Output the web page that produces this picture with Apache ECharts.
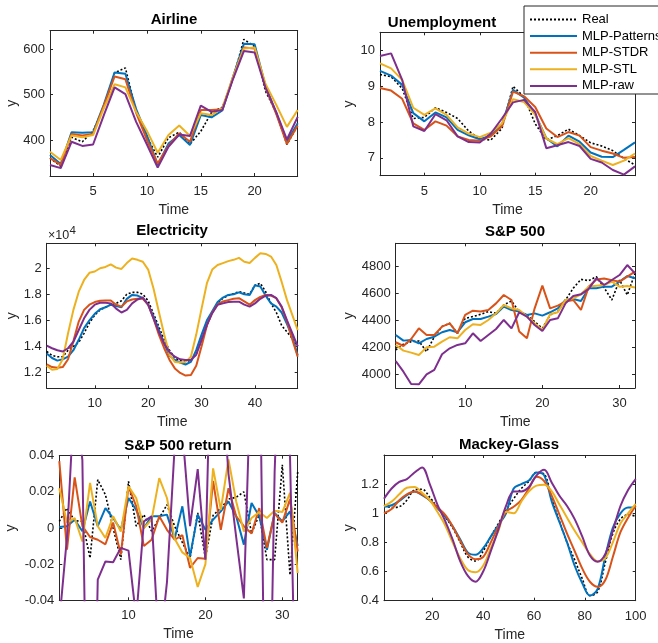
<!DOCTYPE html>
<html>
<head>
<meta charset="utf-8">
<script src="https://cdn.jsdelivr.net/npm/echarts@6/dist/echarts.min.js"></script>
<style>
  html, body { margin: 0; padding: 0; background: #fff; }
  #chart { width: 658px; height: 643px; }
</style>
</head>
<body>
<div id="chart"></div>
<script>
// ---- series names -------------------------------------------------------
const seriesNames = ['Real', 'MLP-Patterns', 'MLP-STDR', 'MLP-STL', 'MLP-raw'];

// ---- Airline (24 steps) -------------------------------------------------
const airReal     = [360, 342, 406, 396, 420, 472, 548, 559, 463, 407, 362, 405, 417, 391, 419, 461, 472, 535, 622, 606, 508, 461, 390, 432];
const airPatterns = [367, 347, 417, 416, 417, 478, 549, 546, 468, 410, 345, 392, 411, 389, 455, 450, 465, 540, 612, 611, 520, 460, 396, 437];
const airSTDR     = [360, 345, 413, 410, 413, 476, 540, 534, 460, 400, 348, 387, 415, 396, 466, 466, 468, 537, 604, 602, 516, 458, 391, 432];
const airSTL      = [374, 356, 410, 406, 411, 470, 523, 516, 462, 420, 372, 411, 432, 409, 459, 455, 470, 540, 602, 604, 524, 478, 429, 466];
const airRaw      = [345, 338, 396, 387, 390, 455, 516, 501, 440, 390, 339, 385, 412, 409, 476, 462, 466, 535, 596, 593, 516, 462, 401, 451];
const airTicksX = [5, 10, 15, 20];
const airTicksY = [400, 500, 600];

// ---- Unemployment (24 steps) --------------------------------------------
const unReal     = [9.33, 9.27, 8.94, 8.10, 8.13, 8.40, 8.27, 8.10, 7.75, 7.52, 7.50, 7.82, 9.00, 8.70, 7.95, 7.50, 7.62, 7.80, 7.62, 7.42, 7.33, 7.20, 6.98, 6.80];
const unPatterns = [9.43, 9.30, 9.04, 8.25, 8.02, 8.27, 8.13, 7.78, 7.63, 7.52, 7.62, 7.92, 8.90, 8.68, 8.22, 7.55, 7.32, 7.62, 7.45, 7.15, 7.03, 7.02, 7.22, 7.43];
const unSTDR     = [8.95, 8.88, 8.65, 7.96, 7.78, 8.02, 7.90, 7.60, 7.50, 7.48, 7.60, 7.88, 8.85, 8.72, 8.42, 7.82, 7.58, 7.72, 7.62, 7.30, 7.20, 7.12, 7.00, 7.02];
const unSTL      = [9.64, 9.50, 9.18, 8.40, 8.20, 8.38, 8.20, 7.85, 7.68, 7.58, 7.70, 7.96, 8.64, 8.56, 8.20, 7.54, 7.38, 7.55, 7.38, 7.05, 6.92, 6.80, 6.92, 7.12];
const unRaw      = [9.85, 9.92, 9.18, 7.88, 7.75, 8.22, 8.05, 7.60, 7.44, 7.43, 7.68, 8.10, 8.55, 8.62, 8.28, 7.27, 7.35, 7.44, 7.33, 6.97, 6.87, 6.66, 6.53, 6.76];
const unTicksX = [5, 10, 15, 20];
const unTicksY = [7, 8, 9, 10];

// ---- Electricity (48 steps) ---------------------------------------------
const elReal     = [13600, 13300, 13200, 13200, 13700, 14000, 14300, 15000, 15800, 16400, 16800, 17000, 17200, 17300, 17500, 18000, 18150, 18150, 18000, 17500, 16500, 15500, 14500, 13700,
                    13100, 12900, 12850, 12900, 13400, 14500, 15600, 16600, 17300, 17700, 17900, 18050, 18200, 18100, 18000, 18700, 18850, 18200, 17300, 16600, 15600, 15100, 14600, 14000];
const elPatterns = [13450, 13100, 12900, 13000, 13200, 13700, 14500, 15400, 16000, 16500, 16850, 17000, 17200, 17100, 17000, 17650, 17950, 17900, 17700, 17200, 16300, 15250, 14200, 13300,
                    12950, 12750, 12600, 12800, 13700, 14900, 16000, 16700, 17400, 17750, 17950, 18000, 18150, 18000, 17950, 18700, 18600, 17900, 17300, 17050, 16600, 15700, 14700, 13300];
const elSTDR     = [12600, 12400, 12350, 12400, 13000, 14400, 15900, 16800, 17200, 17400, 17500, 17520, 17520, 17200, 17050, 17450, 17600, 17650, 17650, 17200, 16150, 14900, 13850, 12950,
                    12300, 11950, 11750, 11800, 12500, 14000, 15600, 16600, 17200, 17450, 17550, 17650, 17700, 17450, 17200, 17550, 17800, 17950, 17900, 17700, 17000, 15900, 14500, 13200];
const elSTL      = [12500, 12200, 12250, 13000, 15000, 16800, 18200, 19100, 19650, 19750, 20000, 20100, 20300, 20050, 19950, 20400, 20750, 20650, 20500, 19900, 18450, 16650, 14900, 13350,
                    12800, 12750, 12800, 13200, 14900, 16900, 18850, 19900, 20250, 20400, 20550, 20650, 20800, 20500, 20400, 20800, 21150, 21100, 20900, 20250, 18950, 17550, 16400, 15250];
const elRaw      = [14050, 13850, 13700, 13600, 13850, 14350, 15250, 16150, 16800, 17200, 17350, 17350, 17300, 16900, 16600, 16800, 17300, 17600, 17750, 17200, 16150, 15100, 14200, 13550,
                    13200, 13000, 12950, 12950, 13350, 14500, 15650, 16550, 17200, 17300, 17400, 17430, 17430, 17200, 17050, 17300, 17650, 17900, 17950, 17700, 17050, 16000, 15000, 14000];
const elTicksX = [10, 20, 30, 40];
const elTicksY = [12000, 14000, 16000, 18000, 20000];

// ---- S&P 500 (32 steps) -------------------------------------------------
const spReal     = [4183, 4225, 4244, 4249, 4170, 4281, 4356, 4380, 4306, 4417, 4430, 4447, 4467, 4454, 4516, 4546, 4467, 4442, 4393, 4343, 4442, 4467, 4553, 4640, 4706, 4696, 4726, 4644, 4553, 4701, 4590, 4750];
const spPatterns = [4294, 4252, 4257, 4232, 4264, 4281, 4314, 4331, 4314, 4388, 4412, 4412, 4430, 4449, 4504, 4479, 4467, 4442, 4454, 4437, 4462, 4491, 4553, 4560, 4546, 4640, 4640, 4652, 4652, 4689, 4731, 4714];
const spSTDR     = [4240, 4212, 4264, 4343, 4294, 4294, 4356, 4380, 4306, 4442, 4474, 4467, 4479, 4528, 4590, 4553, 4319, 4269, 4491, 4659, 4491, 4511, 4541, 4553, 4479, 4652, 4705, 4712, 4700, 4689, 4726, 4763];
const spSTL      = [4220, 4178, 4163, 4146, 4202, 4207, 4244, 4277, 4269, 4331, 4373, 4368, 4405, 4454, 4516, 4491, 4479, 4430, 4380, 4331, 4447, 4462, 4553, 4565, 4595, 4652, 4659, 4664, 4689, 4652, 4657, 4645];
const spRaw      = [4101, 4022, 3931, 3928, 4002, 4035, 4151, 4195, 4220, 4232, 4306, 4249, 4294, 4338, 4405, 4343, 4462, 4430, 4368, 4323, 4405, 4417, 4528, 4583, 4595, 4635, 4714, 4664, 4701, 4738, 4812, 4750];
const spTicksX = [10, 20, 30];
const spTicksY = [4000, 4200, 4400, 4600, 4800];

// ---- S&P 500 return (32 steps) ------------------------------------------
const srReal     = [0.0037, 0.011, 0.004, 0.0037, -0.0166, 0.0267, 0.0184, 0.0, -0.0175, 0.0258, 0.001, 0.0074, -0.0018, 0.0055, 0.0129, 0.001,
                    -0.008, -0.0166, 0.0083, -0.0166, 0.007, 0.011, 0.016, 0.017, 0.020, -0.003, 0.0074, -0.0175, -0.0175, 0.035, -0.026, 0.031];
const srPatterns = [0.0006, 0.001, 0.0046, -0.0018, 0.0147, 0.001, 0.011, 0.0055, -0.001, 0.0166, 0.010, 0.0, 0.0065, 0.0065, 0.0074, -0.006,
                    0.012, -0.0157, 0.0074, -0.001, 0.0046, 0.0092, 0.0147, 0.0065, -0.0092, 0.0138, 0.0065, -0.012, 0.0083, 0.0037, 0.0092, -0.010];
const srSTDR     = [0.037, -0.012, 0.028, 0.001, -0.005, -0.0065, -0.009, 0.003, -0.0147, 0.023, 0.012, -0.010, -0.0065, 0.0065, -0.001, -0.0065,
                    -0.004, -0.022, -0.0166, -0.017, 0.026, -0.001, 0.022, 0.0065, 0.001, -0.003, 0.011, -0.011, 0.008, 0.003, 0.016, -0.013];
const srSTL      = [0.022, 0.003, 0.0055, -0.0075, 0.025, 0.001, -0.0055, 0.0065, -0.002, 0.023, 0.0166, 0.0, 0.0046, 0.0276, 0.0166, -0.006,
                    -0.0135, -0.0166, -0.0326, -0.020, 0.033, 0.010, 0.038, 0.0147, -0.002, 0.0055, 0.0088, 0.0055, 0.0096, 0.0088, 0.0194, -0.025];
const srRaw      = [-0.052, -0.005, 0.077, 0.0376, -0.24, -0.0286, -0.0185, -0.019, -0.011, -0.0125, -0.05, 0.0037, 0.0064, -0.07, -0.03, 0.045,
                    0.054, 0.001, 0.0326, -0.0175, 0.15, 0.09, 0.03, -0.005, -0.039, 0.10, 0.124, -0.204, 0.031, 0.15, 0.04, -0.16];
const srTicksX = [10, 20, 30];
const srTicksY = [-0.04, -0.02, 0, 0.02, 0.04];

// ---- Mackey-Glass (sampled every 3 steps) -------------------------------
const mgTime     = [1, 4, 7, 10, 13, 16, 19, 22, 25, 28, 31, 34, 37, 40, 43, 46, 49, 52, 55, 58, 61, 64, 67, 70, 73, 76, 79, 82, 85, 88, 91, 94, 97, 100];
const mgReal     = [1.055, 1.04, 1.045, 1.09, 1.16, 1.165, 1.11, 1.04, 0.975, 0.9, 0.8, 0.7, 0.672, 0.74, 0.84, 0.93, 1.02, 1.1, 1.17, 1.22, 1.28, 1.27, 1.1, 0.945, 0.8, 0.68, 0.55, 0.435, 0.46, 0.66, 0.86, 0.96, 0.99, 0.98];
const mgPatterns = [1.045, 1.055, 1.085, 1.125, 1.15, 1.125, 1.09, 1.035, 0.98, 0.91, 0.82, 0.73, 0.715, 0.76, 0.84, 0.92, 1.0, 1.17, 1.2, 1.225, 1.28, 1.26, 1.08, 0.94, 0.8, 0.64, 0.52, 0.435, 0.48, 0.7, 0.9, 1.0, 1.04, 1.04];
const mgSTDR     = [1.0, 1.03, 1.09, 1.13, 1.15, 1.13, 1.09, 1.04, 0.99, 0.91, 0.81, 0.72, 0.685, 0.70, 0.80, 0.91, 1.01, 1.045, 1.09, 1.17, 1.25, 1.22, 1.12, 0.99, 0.86, 0.74, 0.62, 0.53, 0.495, 0.54, 0.7, 0.87, 0.97, 1.05];
const mgSTL      = [1.05, 1.08, 1.13, 1.175, 1.18, 1.14, 1.09, 1.01, 0.92, 0.80, 0.69, 0.61, 0.595, 0.64, 0.76, 0.88, 1.01, 1.0, 1.08, 1.15, 1.19, 1.195, 1.15, 1.06, 0.97, 0.88, 0.8, 0.72, 0.67, 0.69, 0.8, 0.93, 1.0, 1.065];
const mgRaw      = [1.1, 1.17, 1.215, 1.235, 1.28, 1.315, 1.2, 1.06, 0.95, 0.82, 0.67, 0.57, 0.53, 0.6, 0.74, 0.89, 1.05, 1.15, 1.15, 1.18, 1.26, 1.298, 1.21, 1.12, 1.05, 0.96, 0.84, 0.71, 0.668, 0.72, 0.88, 1.05, 1.16, 1.235];
const mgTicksX = [20, 40, 60, 80, 100];
const mgTicksY = [0.4, 0.6, 0.8, 1, 1.2];

// ---- styling ------------------------------------------------------------
const FONT = '"Liberation Sans", Arial, Helvetica, sans-serif';
const INK = '#262626';
const lineColors = ['#000000', '#0072BD', '#D95319', '#EDB120', '#7E2F8E'];

function steps(n) { const a = []; for (let i = 1; i <= n; i++) a.push(i); return a; }

const panels = [
  { title: 'Airline', titleAt: [174, 20], box: { left: 50, top: 30.7, width: 247.7, height: 145.3 },
    time: steps(24), x: [1, 24], y: [320.6, 641], xTicks: airTicksX, yTicks: airTicksY, yGap: 31,
    data: [airReal, airPatterns, airSTDR, airSTL, airRaw] },
  { title: 'Unemployment', titleAt: [442, 23.3], box: { left: 380, top: 32.3, width: 255, height: 143.4 },
    time: steps(24), x: [1, 24], y: [6.5, 10.51], xTicks: unTicksX, yTicks: unTicksY, yGap: 22,
    data: [unReal, unPatterns, unSTDR, unSTL, unRaw] },
  { title: 'Electricity', titleAt: [172, 231], box: { left: 46.7, top: 243.3, width: 251, height: 145 },
    time: steps(48), x: [1, 48], y: [10770, 21920], xTicks: elTicksX, yTicks: elTicksY, yGap: 28,
    fmt: v => String(v / 10000),
    data: [elReal, elPatterns, elSTDR, elSTL, elRaw] },
  { title: 'S&P 500', titleAt: [515, 232], box: { left: 395.7, top: 243.3, width: 239.3, height: 144.7 },
    time: steps(32), x: [1, 32], y: [3901, 4973], xTicks: spTicksX, yTicks: spTicksY, yGap: 40,
    data: [spReal, spPatterns, spSTDR, spSTL, spRaw] },
  { title: 'S&P 500 return', titleAt: [178, 445.5], box: { left: 59.3, top: 455.7, width: 238.4, height: 144.6 },
    time: steps(32), x: [1, 32], y: [-0.04, 0.04], xTicks: srTicksX, yTicks: srTicksY, yGap: 41,
    fmt: v => (v === 0 ? '0' : v.toFixed(2)),
    data: [srReal, srPatterns, srSTDR, srSTL, srRaw] },
  { title: 'Mackey-Glass', titleAt: [509, 444.5], box: { left: 384, top: 455, width: 251.7, height: 145.7 },
    time: mgTime, x: [1, 100], y: [0.4, 1.4], xTicks: mgTicksX, yTicks: mgTicksY, yGap: 28, smooth: 0.35,
    data: [mgReal, mgPatterns, mgSTDR, mgSTL, mgRaw] }
];

function xAxisFor(p, gi, position, primary) {
  return {
    type: 'value', gridIndex: gi, position, min: p.x[0], max: p.x[1],
    axisLine: { show: true, onZero: false, lineStyle: { color: INK, width: 1 } },
    axisTick: { show: true, inside: true, length: 3, customValues: p.xTicks, lineStyle: { color: INK } },
    axisLabel: { show: primary, customValues: p.xTicks, color: INK, fontSize: 13, fontFamily: FONT, margin: 9 },
    splitLine: { show: false },
    name: primary ? 'Time' : '', nameLocation: 'middle', nameGap: 27,
    nameTextStyle: { fontSize: 14, color: INK, fontFamily: FONT }
  };
}

function yAxisFor(p, gi, position, primary) {
  return {
    type: 'value', gridIndex: gi, position, min: p.y[0], max: p.y[1],
    axisLine: { show: true, onZero: false, lineStyle: { color: INK, width: 1 } },
    axisTick: { show: true, inside: true, length: 3, customValues: p.yTicks, lineStyle: { color: INK } },
    axisLabel: { show: primary, customValues: p.yTicks, color: INK, fontSize: 13, fontFamily: FONT, margin: 5,
                 formatter: p.fmt || (v => String(v)) },
    splitLine: { show: false },
    name: primary ? 'y' : '', nameLocation: 'middle', nameGap: p.yGap,
    nameTextStyle: { fontSize: 14, color: INK, fontFamily: FONT }
  };
}

const option = {
  animation: false,
  backgroundColor: '#ffffff',
  textStyle: { fontFamily: FONT },
  grid: [], xAxis: [], yAxis: [], series: [], graphic: [],
  legend: {
    orient: 'vertical', left: 524, top: 6,
    padding: [7, 8, 1.6, 5], itemGap: 3.6, itemWidth: 47, itemHeight: 14,
    backgroundColor: '#ffffff', borderColor: INK, borderWidth: 1, borderRadius: 0,
    selectedMode: false,
    itemStyle: { opacity: 0 },
    textStyle: { fontSize: 13, color: '#000', fontFamily: FONT },
    data: seriesNames
  }
};

panels.forEach((p, gi) => {
  option.grid.push({ left: p.box.left, top: p.box.top, width: p.box.width, height: p.box.height, show: false });
  const xi = option.xAxis.length;
  option.xAxis.push(xAxisFor(p, gi, 'bottom', true), xAxisFor(p, gi, 'top', false));
  const yi = option.yAxis.length;
  option.yAxis.push(yAxisFor(p, gi, 'left', true), yAxisFor(p, gi, 'right', false));

  p.data.forEach((vals, k) => {
    option.series.push({
      type: 'line', name: seriesNames[k], xAxisIndex: xi, yAxisIndex: yi,
      data: p.time.map((t, j) => [t, vals[j]]),
      symbol: 'none', smooth: p.smooth || false, clip: true, silent: true,
      lineStyle: k === 0 ? { color: '#000', width: 1.6, type: [2, 2] } : { color: lineColors[k], width: 2 },
      itemStyle: { color: lineColors[k] },
      emphasis: { disabled: true }
    });
  });

  option.graphic.push({
    type: 'text', x: p.titleAt[0], y: p.titleAt[1], silent: true,
    style: { text: p.title, fill: '#000', fontSize: 15, fontWeight: 'bold', fontFamily: FONT, align: 'center', verticalAlign: 'middle' }
  });
});

// exponent marker of the Electricity y axis
option.graphic.push(
  { type: 'text', x: 48, y: 235.5, silent: true,
    style: { text: '×10', fill: INK, fontSize: 12.5, fontFamily: FONT, align: 'left', verticalAlign: 'middle' } },
  { type: 'text', x: 69.5, y: 230.5, silent: true,
    style: { text: '4', fill: INK, fontSize: 11.5, fontFamily: FONT, align: 'left', verticalAlign: 'middle' } }
);

const chart = echarts.init(document.getElementById('chart'), null, { renderer: 'canvas' });
chart.setOption(option);
</script>
</body>
</html>
